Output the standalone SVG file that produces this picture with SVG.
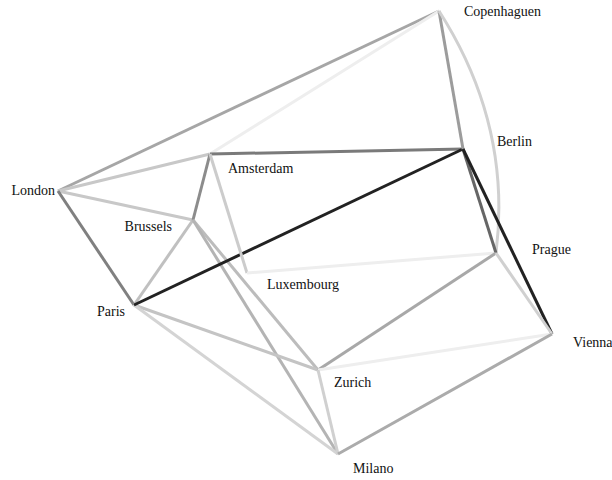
<svg xmlns="http://www.w3.org/2000/svg" width="612" height="480" viewBox="0 0 612 480">
<style>
.e{fill:none;stroke-width:3}
text{font-family:'Liberation Serif','Times New Roman',Times,serif;font-size:14px;fill:#111}
</style>
<rect width="612" height="480" fill="#fff"/>
<g id="connectors">
<line class="e" x1="58" y1="191" x2="439" y2="11" stroke="#a6a6a6"/>
<line class="e" x1="58" y1="191" x2="210" y2="154" stroke="#c8c8c8"/>
<line class="e" x1="58" y1="191" x2="193" y2="220" stroke="#c8c8c8"/>
<line class="e" x1="58" y1="191" x2="134" y2="305" stroke="#808080"/>
<line class="e" x1="210" y1="154" x2="439" y2="11" stroke="#eeeeee"/>
<line class="e" x1="210" y1="154" x2="463" y2="149" stroke="#7a7a7a"/>
<line class="e" x1="210" y1="154" x2="193" y2="220" stroke="#8c8c8c"/>
<line class="e" x1="193" y1="220" x2="134" y2="305" stroke="#c0c0c0"/>
<line class="e" x1="193" y1="220" x2="318" y2="370" stroke="#bcbcbc"/>
<line class="e" x1="193" y1="220" x2="338" y2="454" stroke="#b4b4b4"/>
<line class="e" x1="134" y1="305" x2="318" y2="370" stroke="#c4c4c4"/>
<line class="e" x1="134" y1="305" x2="338" y2="454" stroke="#d4d4d4"/>
<line class="e" x1="134" y1="305" x2="463" y2="149" stroke="#222222"/>
<line class="e" x1="210" y1="154" x2="247" y2="273" stroke="#cccccc"/>
<line class="e" x1="247" y1="273" x2="496" y2="253" stroke="#eeeeee"/>
<line class="e" x1="439" y1="11" x2="463" y2="149" stroke="#9c9c9c"/>
<path class="e" d="M439 11 Q512 125 496 253" stroke="#d0d0d0"/>
<line class="e" x1="463" y1="149" x2="496" y2="253" stroke="#666666"/>
<line class="e" x1="463" y1="149" x2="552" y2="334" stroke="#222222"/>
<line class="e" x1="496" y1="253" x2="318" y2="370" stroke="#a8a8a8"/>
<line class="e" x1="496" y1="253" x2="552" y2="334" stroke="#d0d0d0"/>
<line class="e" x1="318" y1="370" x2="552" y2="334" stroke="#eeeeee"/>
<line class="e" x1="318" y1="370" x2="338" y2="454" stroke="#d0d0d0"/>
<line class="e" x1="338" y1="454" x2="552" y2="334" stroke="#ababab"/>
</g>
<g id="london"><text x="55" y="195" text-anchor="end">London</text></g>
<g id="amsterdam"><text x="228" y="173">Amsterdam</text></g>
<g id="brussels"><text x="172" y="231" text-anchor="end">Brussels</text></g>
<g id="paris"><text x="125" y="316" text-anchor="end">Paris</text></g>
<g id="luxembourg"><text x="267" y="289">Luxembourg</text></g>
<g id="copenhaguen"><text x="464" y="16">Copenhaguen</text></g>
<g id="berlin"><text x="497" y="146">Berlin</text></g>
<g id="prague"><text x="532" y="254">Prague</text></g>
<g id="vienna"><text x="573" y="347">Vienna</text></g>
<g id="zurich"><text x="334" y="387">Zurich</text></g>
<g id="milano"><text x="353" y="473">Milano</text></g>
</svg>
